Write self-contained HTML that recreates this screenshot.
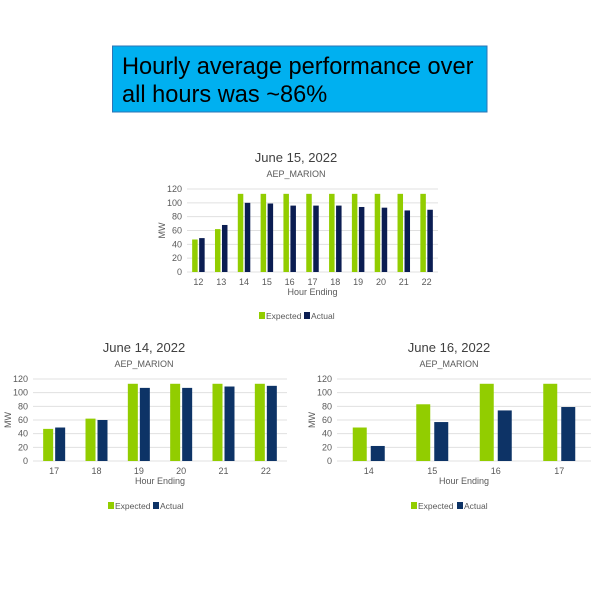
<!DOCTYPE html>
<html><head><meta charset="utf-8"><style>
body{margin:0;width:600px;height:600px;background:#fff;overflow:hidden;font-family:"Liberation Sans",Arial,sans-serif}
</style></head><body>
<svg id="s" width="600" height="600" xmlns="http://www.w3.org/2000/svg" font-family="Liberation Sans, Arial, sans-serif">
<rect x="112.5" y="46" width="374.5" height="66" fill="#00B0F0" stroke="#2E75B6" stroke-width="1"/>
<text x="122" y="74" font-size="23.6" fill="#000">Hourly average performance over</text>
<text x="122" y="102" font-size="23.6" fill="#000">all hours was ~86%</text>
</svg>
<script>
const s=document.getElementById('s');const NS='http://www.w3.org/2000/svg';
function el(t,a,txt){const e=document.createElementNS(NS,t);for(const k in a)e.setAttribute(k,a[k]);if(txt!==undefined)e.textContent=txt;s.appendChild(e);return e;}
function chart(o){
 const {x0,x1,y0,y120,cats,exp,act,bw,gap,title,tx,ty,navy,legE,legA,legY}=o;
 el('text',{x:tx,y:ty,'font-size':13,'text-anchor':'middle',fill:'#404040'},title);
 el('text',{x:tx,y:ty+15,'font-size':9,'text-anchor':'middle',fill:'#595959'},'AEP_MARION');
 const h=(y0-y120)/120;
 for(let v=0;v<=120;v+=20){const y=y0-v*h;
  el('line',{x1:x0,x2:x1,y1:y,y2:y,stroke:'#e0e0e0','stroke-width':1});
  el('text',{x:x0-5,y:y+3,'font-size':9,'text-anchor':'end',fill:'#595959'},v);}
 el('text',{transform:`translate(${x0-22},${(y0+y120)/2}) rotate(-90)`,'font-size':9,'text-anchor':'middle',fill:'#595959'},'MW');
 const cw=(x1-x0)/cats.length;
 cats.forEach((c,i)=>{const cx=x0+cw*(i+0.5);
  const ex=cx-gap/2-bw, ax=cx+gap/2;
  el('rect',{x:ex,y:y0-exp[i]*h,width:bw,height:exp[i]*h,fill:'#92CD00'});
  el('rect',{x:ax,y:y0-act[i]*h,width:bw,height:act[i]*h,fill:navy});
  el('text',{x:cx,y:y0+13,'font-size':9,'text-anchor':'middle',fill:'#595959'},c);});
 el('text',{x:(x0+x1)/2,y:y0+23,'font-size':9,'text-anchor':'middle',fill:'#595959'},'Hour Ending');
 el('rect',{x:legE-3,y:legY-7,width:6,height:7,fill:'#92CD00'});
 el('text',{x:legE+4,y:legY,'font-size':8.5,fill:'#595959'},'Expected');
 el('rect',{x:legA-3,y:legY-7,width:6,height:7,fill:navy});
 el('text',{x:legA+4,y:legY,'font-size':8.5,fill:'#595959'},'Actual');
}
chart({x0:187,x1:438,y0:272,y120:189,cats:[12,13,14,15,16,17,18,19,20,21,22],
 exp:[47,62,113,113,113,113,113,113,113,113,113],act:[49,68,100,99,96,96,96,94,93,89,90],
 bw:5.5,gap:1.5,title:'June 15, 2022',tx:296,ty:162,navy:'#0B1D52',legE:262,legA:307,legY:319});
chart({x0:33,x1:287,y0:461,y120:379,cats:[17,18,19,20,21,22],
 exp:[47,62,113,113,113,113],act:[49,60,107,107,109,110],
 bw:10,gap:2,title:'June 14, 2022',tx:144,ty:352,navy:'#0D3366',legE:111,legA:156,legY:509});
chart({x0:337,x1:591,y0:461,y120:379,cats:[14,15,16,17],
 exp:[49,83,113,113],act:[22,57,74,79],
 bw:14,gap:4,title:'June 16, 2022',tx:449,ty:352,navy:'#0D3366',legE:414,legA:460,legY:509});
</script>
</body></html>
